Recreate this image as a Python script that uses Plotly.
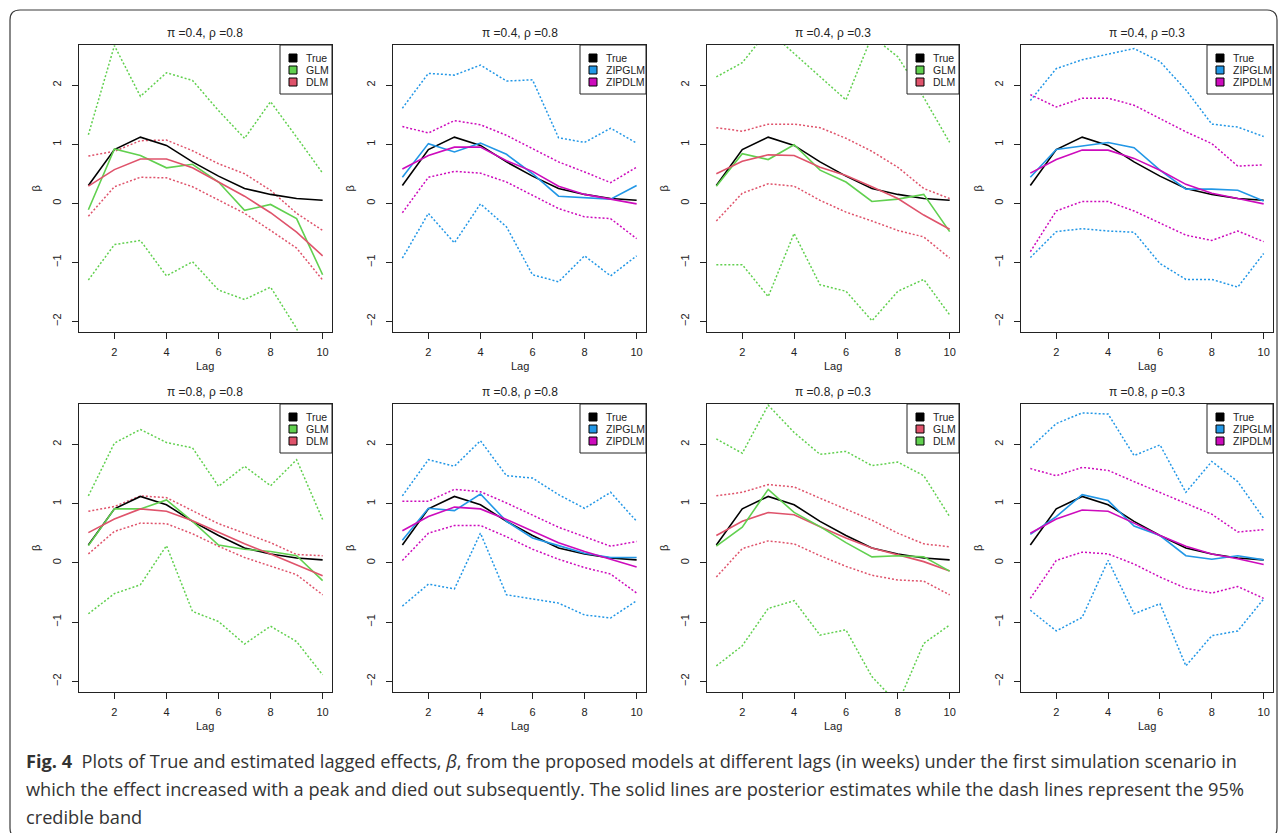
import plotly.graph_objects as go

W, H = 1285, 833

# ---------------- data ----------------
lags = [1, 2, 3, 4, 5, 6, 7, 8, 9, 10]
true_beta = [0.30, 0.91, 1.12, 0.98, 0.70, 0.46, 0.25, 0.15, 0.08, 0.05]

titles = ["π =0.4, ρ =0.8", "π =0.4, ρ =0.8", "π =0.4, ρ =0.3", "π =0.4, ρ =0.3",
          "π =0.8, ρ =0.8", "π =0.8, ρ =0.8", "π =0.8, ρ =0.3", "π =0.8, ρ =0.3"]
legend_labels = [["True", "GLM", "DLM"], ["True", "ZIPGLM", "ZIPDLM"],
                 ["True", "GLM", "DLM"], ["True", "ZIPGLM", "ZIPDLM"],
                 ["True", "GLM", "DLM"], ["True", "ZIPGLM", "ZIPDLM"],
                 ["True", "GLM", "DLM"], ["True", "ZIPGLM", "ZIPDLM"]]

# panel 1: pi=0.4, rho=0.8 (GLM green, DLM red)
p1_a = [-0.11, 0.92, 0.81, 0.60, 0.66, 0.36, -0.12, -0.02, -0.26, -1.21]
p1_a_hi = [1.16, 2.67, 1.81, 2.21, 2.08, 1.57, 1.10, 1.72, 1.12, 0.51]
p1_a_lo = [-1.30, -0.70, -0.63, -1.23, -0.99, -1.47, -1.63, -1.42, -2.12, -3.20]
p1_b = [0.29, 0.57, 0.75, 0.75, 0.60, 0.36, 0.12, -0.16, -0.49, -0.89]
p1_b_hi = [0.80, 0.88, 1.06, 1.07, 0.89, 0.67, 0.50, 0.22, -0.17, -0.46]
p1_b_lo = [-0.22, 0.28, 0.44, 0.43, 0.28, 0.05, -0.17, -0.46, -0.76, -1.30]

# panel 2: pi=0.4, rho=0.8 (ZIPGLM blue, ZIPDLM magenta)
p2_a = [0.44, 1.01, 0.87, 1.02, 0.83, 0.50, 0.12, 0.10, 0.07, 0.30]
p2_a_hi = [1.61, 2.20, 2.17, 2.34, 2.07, 2.09, 1.11, 1.03, 1.27, 1.02]
p2_a_lo = [-0.93, -0.17, -0.67, -0.01, -0.40, -1.21, -1.33, -0.89, -1.23, -0.89]
p2_b = [0.58, 0.81, 0.95, 0.95, 0.72, 0.54, 0.29, 0.15, 0.07, -0.01]
p2_b_hi = [1.30, 1.19, 1.40, 1.33, 1.15, 0.92, 0.70, 0.53, 0.35, 0.61]
p2_b_lo = [-0.16, 0.44, 0.54, 0.51, 0.36, 0.13, -0.09, -0.23, -0.26, -0.60]

# panel 3: pi=0.4, rho=0.3 (GLM green, DLM red)
p3_a = [0.29, 0.84, 0.74, 0.99, 0.56, 0.36, 0.03, 0.07, 0.15, -0.48]
p3_a_hi = [2.14, 2.38, 2.93, 2.54, 2.15, 1.75, 2.83, 2.48, 1.79, 1.03]
p3_a_lo = [-1.04, -1.04, -1.58, -0.51, -1.38, -1.49, -1.99, -1.49, -1.29, -1.89]
p3_b = [0.50, 0.71, 0.82, 0.81, 0.61, 0.47, 0.28, 0.08, -0.20, -0.44]
p3_b_hi = [1.28, 1.22, 1.34, 1.34, 1.28, 1.10, 0.88, 0.61, 0.25, 0.08]
p3_b_lo = [-0.30, 0.17, 0.33, 0.29, 0.05, -0.15, -0.30, -0.46, -0.57, -0.93]

# panel 4: pi=0.4, rho=0.3 (ZIPGLM blue, ZIPDLM magenta)
p4_a = [0.44, 0.91, 0.97, 1.03, 0.94, 0.56, 0.24, 0.24, 0.22, 0.04]
p4_a_hi = [1.74, 2.28, 2.43, 2.52, 2.62, 2.40, 1.92, 1.34, 1.29, 1.13]
p4_a_lo = [-0.92, -0.48, -0.43, -0.47, -0.49, -1.02, -1.29, -1.29, -1.42, -0.85]
p4_b = [0.51, 0.74, 0.90, 0.90, 0.76, 0.56, 0.32, 0.17, 0.08, -0.01]
p4_b_hi = [1.84, 1.63, 1.78, 1.78, 1.66, 1.44, 1.21, 1.01, 0.63, 0.65]
p4_b_lo = [-0.82, -0.13, 0.03, 0.03, -0.13, -0.33, -0.54, -0.63, -0.47, -0.65]

# panel 5: pi=0.8, rho=0.8 (GLM green, DLM red)
p5_a = [0.29, 0.91, 0.91, 1.06, 0.70, 0.30, 0.23, 0.19, 0.12, -0.30]
p5_a_hi = [1.13, 2.02, 2.25, 2.03, 1.94, 1.29, 1.63, 1.30, 1.74, 0.73]
p5_a_lo = [-0.86, -0.52, -0.37, 0.29, -0.82, -0.99, -1.37, -1.07, -1.33, -1.89]
p5_b = [0.51, 0.74, 0.91, 0.87, 0.71, 0.51, 0.32, 0.15, -0.03, -0.22]
p5_b_hi = [0.87, 0.95, 1.13, 1.10, 0.88, 0.66, 0.50, 0.34, 0.14, 0.12]
p5_b_lo = [0.15, 0.53, 0.67, 0.66, 0.49, 0.28, 0.09, -0.05, -0.20, -0.54]

# panel 6: pi=0.8, rho=0.8 (ZIPGLM blue, ZIPDLM magenta)
p6_a = [0.38, 0.92, 0.88, 1.16, 0.70, 0.42, 0.29, 0.16, 0.09, 0.09]
p6_a_hi = [1.13, 1.74, 1.63, 2.06, 1.47, 1.43, 1.15, 0.92, 1.19, 0.70]
p6_a_lo = [-0.73, -0.36, -0.44, 0.50, -0.54, -0.61, -0.68, -0.88, -0.93, -0.64]
p6_b = [0.54, 0.78, 0.94, 0.91, 0.73, 0.53, 0.34, 0.19, 0.06, -0.07]
p6_b_hi = [1.04, 1.04, 1.24, 1.20, 1.01, 0.81, 0.60, 0.44, 0.28, 0.36]
p6_b_lo = [0.04, 0.50, 0.63, 0.63, 0.44, 0.23, 0.06, -0.08, -0.19, -0.51]

# panel 7: pi=0.8, rho=0.3 (GLM red, DLM green as labelled)
p7_a = [0.46, 0.70, 0.85, 0.81, 0.61, 0.42, 0.25, 0.14, 0.02, -0.14]
p7_a_hi = [1.13, 1.19, 1.32, 1.28, 1.09, 0.90, 0.72, 0.50, 0.32, 0.27]
p7_a_lo = [-0.24, 0.24, 0.37, 0.32, 0.12, -0.06, -0.21, -0.29, -0.31, -0.54]
p7_b = [0.28, 0.60, 1.24, 0.85, 0.61, 0.34, 0.10, 0.12, 0.10, -0.14]
p7_b_hi = [2.09, 1.85, 2.66, 2.20, 1.83, 1.88, 1.64, 1.70, 1.47, 0.78]
p7_b_lo = [-1.74, -1.40, -0.77, -0.64, -1.22, -1.13, -1.92, -2.38, -1.36, -1.05]

# panel 8: pi=0.8, rho=0.3 (ZIPGLM blue, ZIPDLM magenta)
p8_a = [0.48, 0.78, 1.15, 1.05, 0.62, 0.46, 0.12, 0.06, 0.12, 0.05]
p8_a_hi = [1.94, 2.35, 2.53, 2.51, 1.81, 1.99, 1.19, 1.71, 1.37, 0.75]
p8_a_lo = [-0.80, -1.15, -0.92, 0.04, -0.86, -0.69, -1.74, -1.23, -1.15, -0.61]
p8_b = [0.50, 0.74, 0.89, 0.87, 0.67, 0.46, 0.28, 0.15, 0.07, -0.03]
p8_b_hi = [1.59, 1.47, 1.61, 1.56, 1.37, 1.19, 1.00, 0.82, 0.52, 0.56]
p8_b_lo = [-0.60, 0.04, 0.18, 0.15, -0.02, -0.24, -0.43, -0.51, -0.40, -0.60]

x_ticks = [2, 4, 6, 8, 10]
y_ticks = [-2, -1, 0, 1, 2]

# ---------------- styling ----------------
GREEN, RED, BLUE, MAGENTA, BLACK = "#61D04F", "#DF536B", "#2297E6", "#CD0BBC", "#000000"
panel_colors = [(GREEN, RED), (BLUE, MAGENTA), (GREEN, RED), (BLUE, MAGENTA),
                (GREEN, RED), (BLUE, MAGENTA), (RED, GREEN), (BLUE, MAGENTA)]
panel_series = [
    (p1_a, p1_a_lo, p1_a_hi, p1_b, p1_b_lo, p1_b_hi),
    (p2_a, p2_a_lo, p2_a_hi, p2_b, p2_b_lo, p2_b_hi),
    (p3_a, p3_a_lo, p3_a_hi, p3_b, p3_b_lo, p3_b_hi),
    (p4_a, p4_a_lo, p4_a_hi, p4_b, p4_b_lo, p4_b_hi),
    (p5_a, p5_a_lo, p5_a_hi, p5_b, p5_b_lo, p5_b_hi),
    (p6_a, p6_a_lo, p6_a_hi, p6_b, p6_b_lo, p6_b_hi),
    (p7_a, p7_a_lo, p7_a_hi, p7_b, p7_b_lo, p7_b_hi),
    (p8_a, p8_a_lo, p8_a_hi, p8_b, p8_b_lo, p8_b_hi),
]

FONT = "Liberation Sans, Arial, sans-serif"
TXT = "#222222"

col_px = [(79, 332), (393, 646), (707, 959), (1021, 1273)]
row_px = [(45, 332), (404, 692)]


def pxx(x):
    return x / W


def pxy(y):
    return 1 - y / H


fig = go.Figure()
annotations = []
shapes = []

for i in range(8):
    r, c = divmod(i, 4)
    x0, x1 = col_px[c]
    y0, y1 = row_px[r]
    ax = "" if i == 0 else str(i + 1)
    xa, ya = "x" + ax, "y" + ax
    ca, cb = panel_colors[i]
    a, a_lo, a_hi, b, b_lo, b_hi = panel_series[i]
    DOT = "2px,2px"
    tr = [
        (a_hi, ca, DOT), (a_lo, ca, DOT), (b_hi, cb, DOT), (b_lo, cb, DOT),
        (true_beta, BLACK, "solid"), (a, ca, "solid"), (b, cb, "solid"),
    ]
    for ys, col, dash in tr:
        fig.add_trace(go.Scatter(
            x=lags, y=ys, mode="lines", xaxis=xa, yaxis=ya, showlegend=False,
            hoverinfo="skip",
            line=dict(color=col, width=1.5 if dash != "solid" else 1.6, dash=dash),
        ))

    common = dict(showline=True, mirror=True, linecolor="#222", linewidth=1,
                  ticks="outside", ticklen=6, tickwidth=1, tickcolor="#222",
                  showgrid=False, zeroline=False,
                  tickfont=dict(family=FONT, size=11, color=TXT))
    fig.update_layout(**{
        ("xaxis" + ax): dict(domain=[pxx(x0), pxx(x1)], range=[0.64, 10.36],
                             tickvals=x_ticks, anchor=ya, ticklabelstandoff=4, **common),
        ("yaxis" + ax): dict(domain=[pxy(y1), pxy(y0)], range=[-2.18, 2.68],
                             tickvals=y_ticks, anchor=xa, tickangle=-90,
                             ticklabelstandoff=7, **common),
    })

    # titles
    xm = (x0 + x1) / 2
    annotations.append(dict(text=titles[i], x=pxx(xm), y=pxy(y0 - 12), xref="paper", yref="paper",
                            showarrow=False, xanchor="center", yanchor="middle",
                            font=dict(family=FONT, size=12, color=TXT)))
    annotations.append(dict(text="Lag", x=pxx(xm), y=pxy(y1 + 34), xref="paper", yref="paper",
                            showarrow=False, xanchor="center", yanchor="middle",
                            font=dict(family=FONT, size=11, color=TXT)))
    annotations.append(dict(text="β", x=pxx(x0 - 43), y=pxy((y0 + y1) / 2), xref="paper", yref="paper",
                            showarrow=False, xanchor="center", yanchor="middle", textangle=-90,
                            font=dict(family=FONT, size=11, color=TXT)))

    # legend box (drawn manually to match R legend)
    labels = legend_labels[i]
    lw = 66 if len(labels[1]) > 3 else 52
    lx0, lx1 = x1 - lw, x1
    ly0, ly1 = y0, y0 + 49
    shapes.append(dict(type="rect", xref="paper", yref="paper",
                       x0=pxx(lx0), x1=pxx(lx1), y0=pxy(ly1), y1=pxy(ly0),
                       line=dict(color="#222", width=1), fillcolor="white", layer="above"))
    for k, (lab, col) in enumerate(zip(labels, [BLACK, ca, cb])):
        cy = ly0 + 13 + 12 * k
        shapes.append(dict(type="rect", xref="paper", yref="paper",
                           x0=pxx(lx0 + 9), x1=pxx(lx0 + 17), y0=pxy(cy + 4), y1=pxy(cy - 4),
                           line=dict(color="#000", width=1), fillcolor=col, layer="above"))
        annotations.append(dict(text=lab, x=pxx(lx0 + 24), y=pxy(cy), xref="paper", yref="paper",
                                showarrow=False, xanchor="left", yanchor="middle",
                                font=dict(family=FONT, size=10.5, color=TXT)))

# card border with rounded corners
bx0, by0, bx1, by1, rr = 10, 10, 1277, 838, 10
path = (f"M {pxx(bx0 + rr)},{pxy(by0)} L {pxx(bx1 - rr)},{pxy(by0)} "
        f"Q {pxx(bx1)},{pxy(by0)} {pxx(bx1)},{pxy(by0 + rr)} "
        f"L {pxx(bx1)},{pxy(by1 - rr)} Q {pxx(bx1)},{pxy(by1)} {pxx(bx1 - rr)},{pxy(by1)} "
        f"L {pxx(bx0 + rr)},{pxy(by1)} Q {pxx(bx0)},{pxy(by1)} {pxx(bx0)},{pxy(by1 - rr)} "
        f"L {pxx(bx0)},{pxy(by0 + rr)} Q {pxx(bx0)},{pxy(by0)} {pxx(bx0 + rr)},{pxy(by0)} Z")
shapes.append(dict(type="path", path=path, xref="paper", yref="paper",
                   line=dict(color="#3a3a3a", width=1.2)))

# caption
CAP_FONT = "Open Sans, Noto Sans, sans-serif"
cap_lines = [
    "<b>Fig. 4</b>  Plots of True and estimated lagged effects, <i>β</i>, from the proposed models at different lags (in weeks) under the first simulation scenario in",
    "which the effect increased with a peak and died out subsequently. The solid lines are posterior estimates while the dash lines represent the 95%",
    "credible band",
]
for k, line in enumerate(cap_lines):
    annotations.append(dict(text=line, x=pxx(24), y=pxy(761 + 28 * k), xref="paper", yref="paper",
                            showarrow=False, xanchor="left", yanchor="middle",
                            font=dict(family=CAP_FONT, size=18.2, color="#333333")))

fig.update_layout(width=W, height=H, margin=dict(l=0, r=0, t=0, b=0),
                  paper_bgcolor="white", plot_bgcolor="white",
                  annotations=annotations, shapes=shapes, showlegend=False)

fig.write_html("out.html", config={"displayModeBar": False},
               post_script="document.body.style.margin='0';document.body.style.overflow='hidden';")
